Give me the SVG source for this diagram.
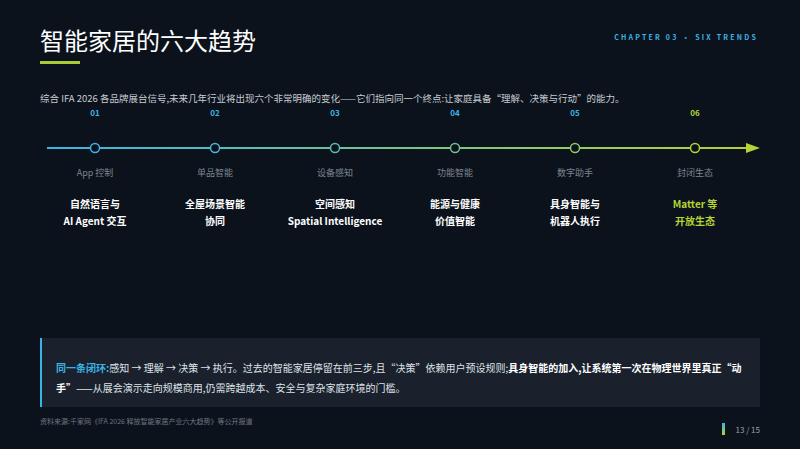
<svg xmlns="http://www.w3.org/2000/svg" width="800" height="449" viewBox="0 0 800 449">
<defs>
<linearGradient id="tl" x1="47" y1="0" x2="760" y2="0" gradientUnits="userSpaceOnUse"><stop offset="0" stop-color="#3ab4e6"/><stop offset="1" stop-color="#b4d334"/></linearGradient>
<linearGradient id="pg" x1="0" y1="0" x2="0" y2="1"><stop offset="0" stop-color="#3ab4e6"/><stop offset="1" stop-color="#b4d334"/></linearGradient>
<style>
text{font-family:"Noto Sans CJK SC","Liberation Sans",sans-serif}
.num{font-size:8px;font-weight:bold;fill:#3ab4e6;text-anchor:middle}
.old{font-size:9px;fill:#7d8590;text-anchor:middle}
.new{font-size:10px;font-weight:bold;fill:#ffffff;text-anchor:middle}
.dot{fill:#0b121c;stroke-width:1.5}
</style>
</defs>
<rect width="800" height="449" fill="#0b121c"/>
<text x="40" y="50" font-size="24" fill="#ffffff">智能家居的六大趋势</text>
<rect x="40" y="61" width="40" height="3" fill="#a8cc34"/>
<text x="758" y="40" font-size="7" font-weight="bold" fill="#3ab4e6" text-anchor="end" letter-spacing="2.2">CHAPTER 03 · SIX TRENDS</text>
<text x="40" y="102" font-size="9.5" fill="#c8ccd2">综合 IFA 2026 各品牌展台信号,未来几年行业将出现六个非常明确的变化——它们指向同一个终点:让家庭具备“理解、决策与行动”的能力。</text>
<g id="connectors">
<line x1="47" y1="148" x2="747" y2="148" stroke="url(#tl)" stroke-width="2"/>
<polygon points="746,143 760,148 746,153" fill="#b4d334"/>
</g>
<g id="n1"><text x="95" y="116" class="num">01</text><circle cx="95" cy="148" r="4.5" class="dot" stroke="#3ab4e6"/><text x="95" y="176" class="old">App 控制</text><text x="95" y="208" class="new">自然语言与</text><text x="95" y="225" class="new">AI Agent 交互</text></g>
<g id="n2"><text x="215" y="116" class="num">02</text><circle cx="215" cy="148" r="4.5" class="dot" stroke="#4ab8d2"/><text x="215" y="176" class="old">单品智能</text><text x="215" y="208" class="new">全屋场景智能</text><text x="215" y="225" class="new">协同</text></g>
<g id="n3"><text x="335" y="116" class="num">03</text><circle cx="335" cy="148" r="4.5" class="dot" stroke="#5cbcb4"/><text x="335" y="176" class="old">设备感知</text><text x="335" y="208" class="new">空间感知</text><text x="335" y="225" class="new">Spatial Intelligence</text></g>
<g id="n4"><text x="455" y="116" class="num">04</text><circle cx="455" cy="148" r="4.5" class="dot" stroke="#74c290"/><text x="455" y="176" class="old">功能智能</text><text x="455" y="208" class="new">能源与健康</text><text x="455" y="225" class="new">价值智能</text></g>
<g id="n5"><text x="575" y="116" class="num">05</text><circle cx="575" cy="148" r="4.5" class="dot" stroke="#8ec86a"/><text x="575" y="176" class="old">数字助手</text><text x="575" y="208" class="new">具身智能与</text><text x="575" y="225" class="new">机器人执行</text></g>
<g id="n6"><text x="695" y="116" class="num" style="fill:#b4d334">06</text><circle cx="695" cy="148" r="4.5" class="dot" stroke="#b4d334"/><text x="695" y="176" class="old">封闭生态</text><text x="695" y="208" class="new" style="fill:#b4d334">Matter 等</text><text x="695" y="225" class="new" style="fill:#b4d334">开放生态</text></g>
<g id="note">
<rect x="40" y="338" width="720" height="69" fill="#1a212d"/>
<rect x="40" y="338" width="2" height="69" fill="#3ab4e6"/>
<text x="56" y="372" font-size="10" fill="#dfe3e8"><tspan font-weight="bold" fill="#3ab4e6">同一条闭环:</tspan>感知 → 理解 → 决策 → 执行。过去的智能家居停留在前三步,且“决策”依赖用户预设规则;<tspan font-weight="bold" fill="#ffffff">具身智能的加入,让系统第一次在物理世界里真正“动</tspan></text>
<text x="56" y="392" font-size="10" fill="#dfe3e8"><tspan font-weight="bold" fill="#ffffff">手”</tspan>——从展会演示走向规模商用,仍需跨越成本、安全与复杂家庭环境的门槛。</text>
</g>
<text x="40" y="424" font-size="7" fill="#6f7782">资料来源:千家网《IFA 2026 释放智能家居产业六大趋势》等公开报道</text>
<rect x="722" y="423" width="3" height="12" fill="url(#pg)"/>
<text x="760" y="433" font-size="8" fill="#9aa2ac" text-anchor="end">13 / 15</text>
</svg>
